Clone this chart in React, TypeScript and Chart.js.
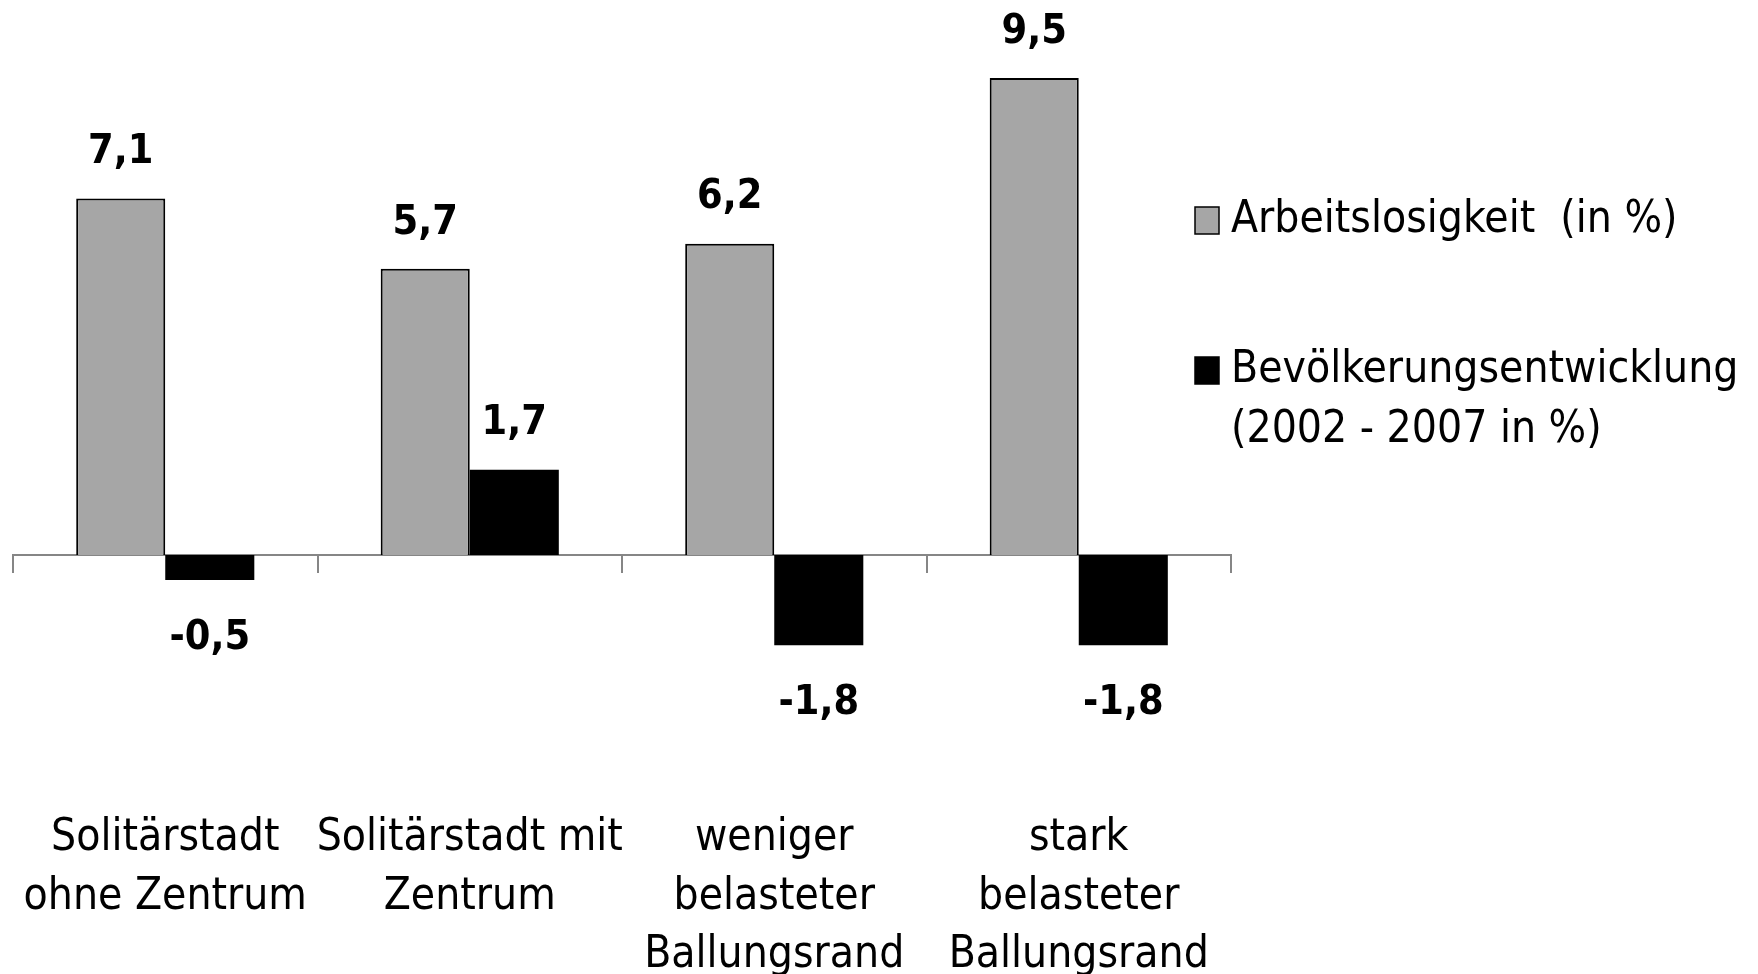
import React, { useEffect, useRef } from "react";
import { Chart, registerables } from "chart.js";

Chart.register(...registerables);

const categories: string[][] = [
  ["Solitärstadt", "ohne Zentrum"],
  ["Solitärstadt mit", "Zentrum"],
  ["weniger", "belasteter", "Ballungsrand"],
  ["stark", "belasteter", "Ballungsrand"],
];
const arbeitslosigkeit: number[] = [7.1, 5.7, 6.2, 9.5];
const bevoelkerung: number[] = [-0.5, 1.7, -1.8, -1.8];
const seriesLabels: string[][] = [
  ["Arbeitslosigkeit  (in %)"],
  ["Bevölkerungsentwicklung", "(2002 - 2007 in %)"],
];
const yMin = -5;
const yMax = 10;

const FONT = "'Liberation Sans Narrow', 'DejaVu Sans Condensed', 'Liberation Sans', sans-serif";

const fmt = (v: number) => v.toFixed(1).replace(".", ",");

const dataLabelPlugin = {
  id: "dataLabels",
  afterDatasetsDraw(chart: any) {
    const ctx = chart.ctx;
    ctx.save();
    ctx.font = `bold 41px ${FONT}`;
    ctx.fillStyle = "#000";
    ctx.textAlign = "center";
    ctx.textBaseline = "middle";
    chart.data.datasets.forEach((ds: any, di: number) => {
      const meta = chart.getDatasetMeta(di);
      meta.data.forEach((bar: any, i: number) => {
        const v = ds.data[i] as number;
        const y = v >= 0 ? bar.y - 46 : bar.y + 58;
        ctx.fillText(fmt(v), bar.x, y);
      });
    });
    ctx.restore();
  },
};

const legendPlugin = {
  id: "customLegend",
  afterDraw(chart: any) {
    const ctx = chart.ctx;
    const area = chart.chartArea;
    ctx.save();
    ctx.font = `44px ${FONT}`;
    ctx.textBaseline = "middle";
    ctx.textAlign = "left";
    const boxX = area.right - 36;
    const textX = area.right;
    const firstY = [221, 371];
    const lineH = 60;
    chart.data.datasets.forEach((ds: any, di: number) => {
      const y0 = firstY[di];
      ctx.fillStyle = ds.backgroundColor;
      ctx.fillRect(boxX, y0 - 14, 24, 27);
      ctx.strokeStyle = "#000";
      ctx.lineWidth = 1.5;
      ctx.strokeRect(boxX, y0 - 14, 24, 27);
      ctx.fillStyle = "#000";
      const lines: string[] = seriesLabels[di];
      lines.forEach((t, li) => ctx.fillText(t, textX, y0 + li * lineH));
    });
    ctx.restore();
  },
};

export default function App() {
  const ref = useRef<HTMLCanvasElement | null>(null);
  useEffect(() => {
    document.body.style.margin = "0";
    if (!ref.current) return;
    const chart = new Chart(ref.current, {
      type: "bar",
      data: {
        labels: categories.map((c) => c.join(" ")),
        datasets: [
          {
            label: seriesLabels[0].join(" "),
            data: arbeitslosigkeit,
            backgroundColor: "#a6a6a6",
            borderColor: "#000",
            borderWidth: 2,
            categoryPercentage: 0.585,
            barPercentage: 1,
          },
          {
            label: seriesLabels[1].join(" "),
            data: bevoelkerung,
            backgroundColor: "#000000",
            borderColor: "#000",
            borderWidth: 0,
            categoryPercentage: 0.585,
            barPercentage: 1,
          },
        ],
      },
      options: {
        animation: false,
        responsive: false,
        devicePixelRatio: 1,
        layout: { padding: { left: 13, right: 527, top: 53, bottom: 0 } },
        plugins: {
          legend: { display: false },
          tooltip: { enabled: false },
          title: { display: false },
        },
        scales: {
          y: {
            display: false,
            min: yMin,
            max: yMax,
          },
          x: {
            axis: "x",
            type: "category",
            position: { y: 0 } as any,
            offset: true,
            grid: {
              display: true,
              drawOnChartArea: false,
              drawTicks: true,
              tickLength: 17,
              color: "#868686",
              lineWidth: 2,
              offset: true,
            },
            border: { display: true, color: "#868686", width: 2 },
            ticks: { display: false },
          },
          x2: {
            axis: "x",
            type: "category",
            position: "bottom",
            labels: categories as any,
            offset: true,
            grid: { display: false, drawTicks: false },
            border: { display: false },
            ticks: {
              padding: 4,
              maxRotation: 0,
              autoSkip: false,
              color: "#000",
              font: { family: FONT, size: 44, lineHeight: 1.32 },
            },
            afterFit: (scale: any) => {
              scale.height = 168;
            },
          },
        },
      },
      plugins: [dataLabelPlugin, legendPlugin],
    });
    return () => chart.destroy();
  }, []);
  return <canvas ref={ref} width={1758} height={974} style={{ display: "block" }} />;
}
